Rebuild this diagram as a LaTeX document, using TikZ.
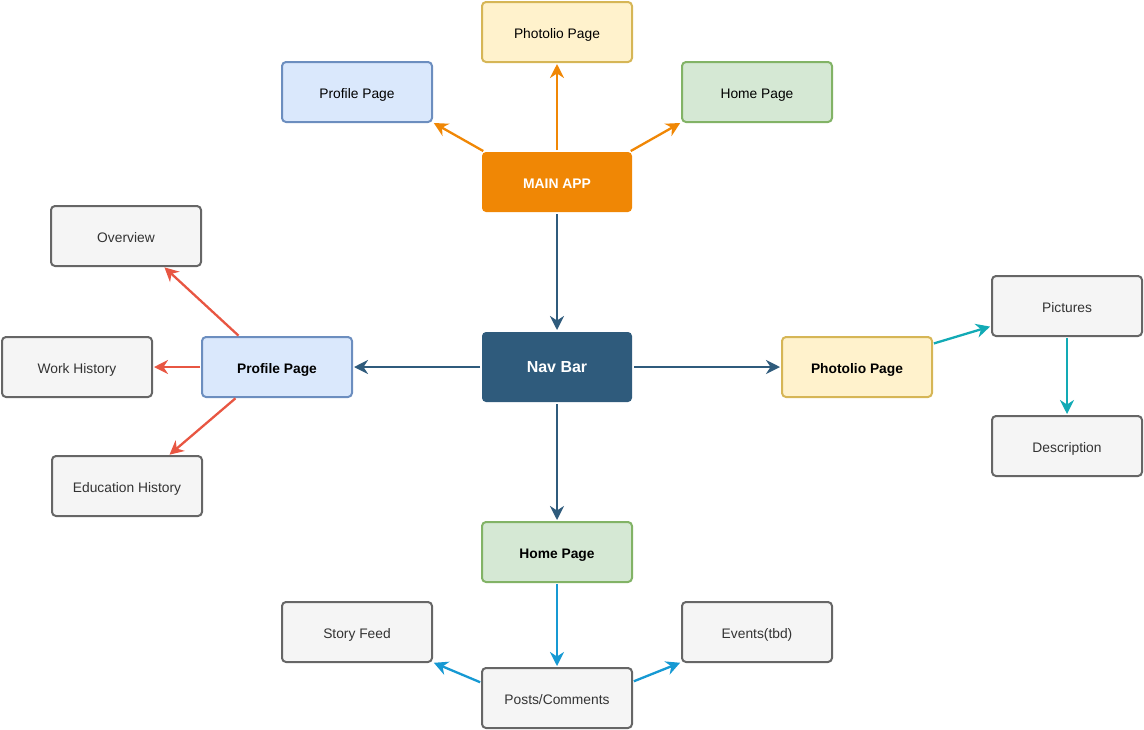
\documentclass[tikz,border=0pt]{standalone}
\usepackage{fontspec}
\setmainfont{Liberation Sans}
\usetikzlibrary{arrows.meta,positioning,calc}
\definecolor{apporange}{HTML}{F08705}
\definecolor{navblue}{HTML}{2F5B7C}
\definecolor{pageblue}{HTML}{6C8EBF}
\definecolor{softblue}{HTML}{DAE8FC}
\definecolor{pagegold}{HTML}{D6B656}
\definecolor{softgold}{HTML}{FFF2CC}
\definecolor{pagegreen}{HTML}{82B366}
\definecolor{softgreen}{HTML}{D5E8D4}
\definecolor{leafgrey}{HTML}{666666}
\definecolor{softgrey}{HTML}{F5F5F5}
\definecolor{profred}{HTML}{E85642}
\definecolor{phototeal}{HTML}{12AAB5}
\definecolor{homeblue}{HTML}{1699D3}
\tikzset{
  pagebox/.style={rounded corners=4pt, line width=2pt, outer sep=0pt, align=center, minimum width=150pt, minimum height=60pt, inner sep=0pt, text height=12pt, text depth=0pt, font=\fontsize{13.8}{16}\selectfont},
  leafbox/.style={pagebox, draw=leafgrey, fill=softgrey, text=black!80},
  bluebox/.style={pagebox, draw=pageblue, fill=softblue},
  goldbox/.style={pagebox, draw=pagegold, fill=softgold},
  greenbox/.style={pagebox, draw=pagegreen, fill=softgreen},
  hubbox/.style={pagebox, draw=none, text=white, font=\fontsize{13.9}{16}\selectfont\bfseries},
  link/.style={-{Stealth[length=14pt, width=14pt, inset=4.5pt]}, line width=2.3pt, shorten <=2pt, shorten >=2pt},
  orangeedge/.style={link, draw=apporange},
  navedge/.style={link, draw=navblue},
  redge/.style={link, draw=profred},
  tealedge/.style={link, draw=phototeal},
  blueedge/.style={link, draw=homeblue}
}
\begin{document}
\begin{tikzpicture}[x=1pt, y=-1pt]
  \useasboundingbox (0,0) rectangle (1144,729);
  % hub
  \node[hubbox, fill=navblue, minimum height=70pt, text height=11pt, font=\fontsize{16}{18}\selectfont\bfseries] (nav) at (557,367) {Nav Bar};
  \node[hubbox, fill=apporange, above=120pt of nav] (main) {MAIN APP};
  % top row
  \node[goldbox, above=90pt of main] (photoTop) {Photolio Page};
  \node[bluebox, below left=0pt and 50pt of photoTop] (profTop) {Profile Page};
  \node[greenbox, below right=0pt and 50pt of photoTop] (homeTop) {Home Page};
  % profile branch
  \node[bluebox, left=130pt of nav, font=\fontsize{13.8}{16}\selectfont\bfseries] (profile) {Profile Page};
  \node[leafbox, left=50pt of profile] (work) {Work History};
  \node[leafbox, above left=71pt and 1pt of profile] (overview) {Overview};
  \node[leafbox, below left=59pt and 0pt of profile] (education) {Education History};
  % photolio branch
  \node[goldbox, right=150pt of nav, font=\fontsize{13.8}{16}\selectfont\bfseries] (photo) {Photolio Page};
  \node[leafbox, above right=1pt and 60pt of photo] (pictures) {Pictures};
  \node[leafbox, below=80pt of pictures] (description) {Description};
  % home branch
  \node[greenbox, below=120pt of nav, font=\fontsize{13.8}{16}\selectfont\bfseries] (home) {Home Page};
  \node[leafbox, below=86pt of home] (posts) {Posts/Comments};
  \node[leafbox, above left=6pt and 50pt of posts] (story) {Story Feed};
  \node[leafbox, above right=6pt and 50pt of posts] (events) {Events(tbd)};

  \draw[orangeedge] (main) -- (photoTop);
  \draw[orangeedge] ([xshift=3pt]main.north west) -- (profTop.south east);
  \draw[orangeedge] ([xshift=-3pt]main.north east) -- (homeTop.south west);
  \draw[navedge] (main) -- (nav);
  \draw[navedge] (nav) -- (profile);
  \draw[navedge] (nav) -- (photo);
  \draw[navedge] (nav) -- (home);
  \draw[redge] ([xshift=38pt]profile.north west) -- ([xshift=-38pt]overview.south east);
  \draw[redge] (profile) -- (work);
  \draw[redge] ([xshift=35pt]profile.south west) -- ([xshift=-34pt]education.north east);
  \draw[tealedge] ([yshift=-7pt]photo.north east) -- ([yshift=10pt]pictures.south west);
  \draw[tealedge] (pictures) -- (description);
  \draw[blueedge] (home) -- (posts);
  \draw[blueedge] ([yshift=-15pt]posts.north west) -- (story.south east);
  \draw[blueedge] ([yshift=-14pt]posts.north east) -- (events.south west);
\end{tikzpicture}
\end{document}
